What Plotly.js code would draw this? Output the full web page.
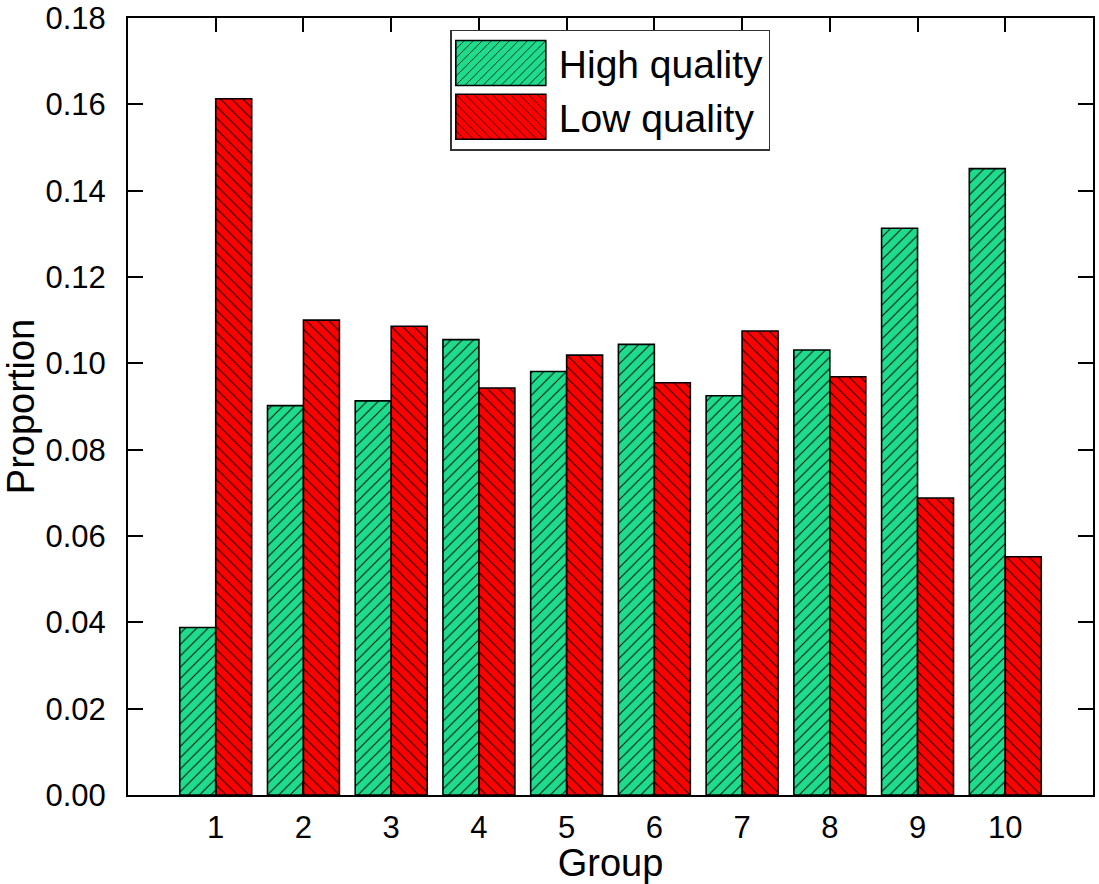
<!DOCTYPE html>
<html>
<head>
<meta charset="utf-8">
<script src="https://cdn.plot.ly/plotly-3.0.1.min.js"></script>
<style>html,body{margin:0;padding:0;background:#fff;}#chart{width:1099px;height:884px;}</style>
</head>
<body>
<div id="chart"></div>
<script>
const groups = [1, 2, 3, 4, 5, 6, 7, 8, 9, 10];
const highQuality = [0.0388, 0.0902, 0.0913, 0.1055, 0.0981, 0.1044, 0.0925, 0.1031, 0.1313, 0.1451];
const lowQuality  = [0.1613, 0.1100, 0.1086, 0.0943, 0.1019, 0.0955, 0.1075, 0.0969, 0.0688, 0.0552];
const seriesNames = ['High quality', 'Low quality'];
const yTicks = [0, 0.02, 0.04, 0.06, 0.08, 0.10, 0.12, 0.14, 0.16, 0.18];
const yTickText = ['0.00', '0.02', '0.04', '0.06', '0.08', '0.10', '0.12', '0.14', '0.16', '0.18'];

const FONT = 'Liberation Sans, Arial, sans-serif';

const traces = [
  {
    type: 'bar', name: seriesNames[0], x: groups, y: highQuality,
    marker: {
      color: '#1fdc8c',
      line: {color: '#000', width: 1.6},
      pattern: {shape: '/', fgcolor: '#000', bgcolor: '#1fdc8c', size: 8, solidity: 0.12}
    }
  },
  {
    type: 'bar', name: seriesNames[1], x: groups, y: lowQuality,
    marker: {
      color: '#ff0000',
      line: {color: '#000', width: 1.6},
      pattern: {shape: '\\', fgcolor: '#000', bgcolor: '#ff0000', size: 8, solidity: 0.12}
    }
  }
];

const layout = {
  width: 1099, height: 884,
  margin: {l: 128, r: 6, t: 18, b: 89},
  paper_bgcolor: '#fff', plot_bgcolor: '#fff',
  font: {family: FONT, color: '#000', size: 31},
  barmode: 'group', bargap: 0.18, bargroupgap: 0,
  showlegend: true,
  legend: {
    x: 0.334, y: 0.985, xanchor: 'left', yanchor: 'top',
    bgcolor: '#fff', bordercolor: '#333', borderwidth: 1.5,
    font: {family: FONT, size: 39, color: '#000'},
    itemwidth: 97, tracegroupgap: 0
  },
  xaxis: {
    range: [0, 11], tickvals: groups, ticktext: groups.map(String),
    ticks: 'inside', ticklen: 14, tickwidth: 2, tickcolor: '#000',
    showline: true, linecolor: '#000', linewidth: 2, mirror: 'ticks',
    showgrid: false, zeroline: false,
    tickfont: {family: FONT, size: 31}, ticklabelstandoff: 4,
    title: {text: 'Group', font: {family: FONT, size: 38}, standoff: 2}
  },
  yaxis: {
    range: [0, 0.18], tickvals: yTicks, ticktext: yTickText,
    ticks: 'inside', ticklen: 15, tickwidth: 2, tickcolor: '#000',
    showline: true, linecolor: '#000', linewidth: 2, mirror: 'ticks',
    showgrid: false, zeroline: false, ticklabeloverflow: 'allow',
    tickfont: {family: FONT, size: 31}, ticklabelstandoff: 14,
    title: {text: 'Proportion', font: {family: FONT, size: 38}, standoff: 12}
  }
};

Plotly.newPlot('chart', traces, layout, {staticPlot: true}).then(function () {
  try {
    document.querySelectorAll('#chart .legend .legendpoints path').forEach(function (p) {
      p.setAttribute('d', 'M40.5,22.5H-49.5V-22.5H40.5Z');
    });
  } catch (e) {}
});
</script>
</body>
</html>
